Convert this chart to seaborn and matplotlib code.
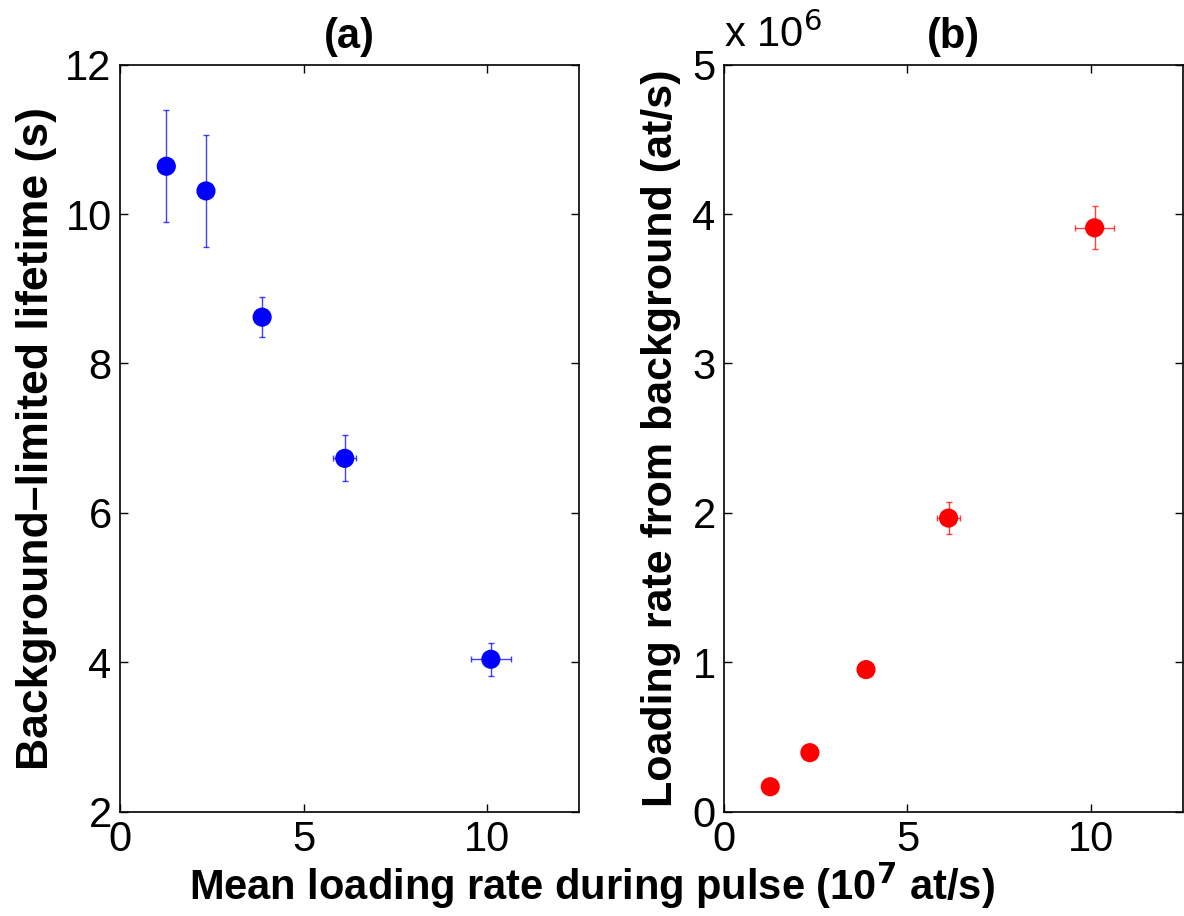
import numpy as np
import pandas as pd
import seaborn as sns
import matplotlib.pyplot as plt

# Mean loading rate during pulse (10^7 at/s)
taxa_media = [1.26, 2.34, 3.87, 6.12, 10.1]
taxa_media_err = [0.08, 0.08, 0.10, 0.31, 0.54]

# (a) Background-limited lifetime (s)
vida_util = [10.64, 10.31, 8.62, 6.73, 4.04]
vida_util_err = [0.75, 0.755, 0.27, 0.31, 0.22]

# (b) Loading rate from background (10^6 at/s)
taxa_fundo = [0.167, 0.395, 0.951, 1.965, 3.908]
taxa_fundo_err = [0.02, 0.02, 0.03, 0.108, 0.145]

data = pd.DataFrame({
    'x': taxa_media, 'xerr': taxa_media_err,
    'tau': vida_util, 'tau_err': vida_util_err,
    'R': taxa_fundo, 'R_err': taxa_fundo_err,
})

sns.set_style("ticks")
plt.rcParams['font.family'] = ['Liberation Sans', 'DejaVu Sans']
plt.rcParams['text.color'] = 'black'
plt.rcParams['axes.labelcolor'] = 'black'
plt.rcParams['xtick.color'] = 'black'
plt.rcParams['ytick.color'] = 'black'

fig = plt.figure(figsize=(11.84, 9.16), dpi=100)
ax1 = fig.add_axes([0.1014, 0.1139, 0.3876, 0.8155])
ax2 = fig.add_axes([0.6115, 0.1139, 0.3874, 0.8155])

def painel(ax, ycol, ecol, cor):
    ax.errorbar(data['x'], data[ycol], xerr=data['xerr'], yerr=data[ecol],
                fmt='none', ecolor=cor, elinewidth=1.0, capsize=2.5,
                capthick=1.0, alpha=0.75, zorder=2)
    sns.scatterplot(data=data, x='x', y=ycol, ax=ax, color=cor, s=190,
                    edgecolor='none', linewidth=0, zorder=3, legend=False)
    ax.set_xlim(0, 12.5)
    ax.set_xticks([0, 5, 10])
    ax.tick_params(direction='in', length=6, width=1, labelsize=30,
                   top=True, right=True, pad=6, colors='black')
    for s in ax.spines.values():
        s.set_linewidth(1.2)
        s.set_color('black')
    ax.set_xlabel('')

painel(ax1, 'tau', 'tau_err', '#0000ff')
ax1.set_ylim(2, 12)
ax1.set_yticks([2, 4, 6, 8, 10, 12])
ax1.set_ylabel('Background\u2013limited lifetime (s)', fontsize=32,
               fontweight='bold', labelpad=6, color='black')
ax1.set_title('(a)', fontsize=30, fontweight='bold', pad=12, color='black')

painel(ax2, 'R', 'R_err', '#ff0000')
ax2.set_ylim(0, 5)
ax2.set_yticks([0, 1, 2, 3, 4, 5])
ax2.set_ylabel('Loading rate from background (at/s)', fontsize=31,
               fontweight='bold', labelpad=8, color='black')
ax2.set_title('(b)', fontsize=30, fontweight='bold', pad=12, color='black')
ax2.text(0.0, 1.012, 'x 10$^6$', transform=ax2.transAxes, fontsize=30,
         ha='left', va='bottom', color='black')

fig.text(0.5, 0.005, 'Mean loading rate during pulse (10$^\\mathbf{7}$ at/s)',
         ha='center', va='bottom', fontsize=30, fontweight='bold', color='black')

plt.savefig('out.png', dpi=100)
